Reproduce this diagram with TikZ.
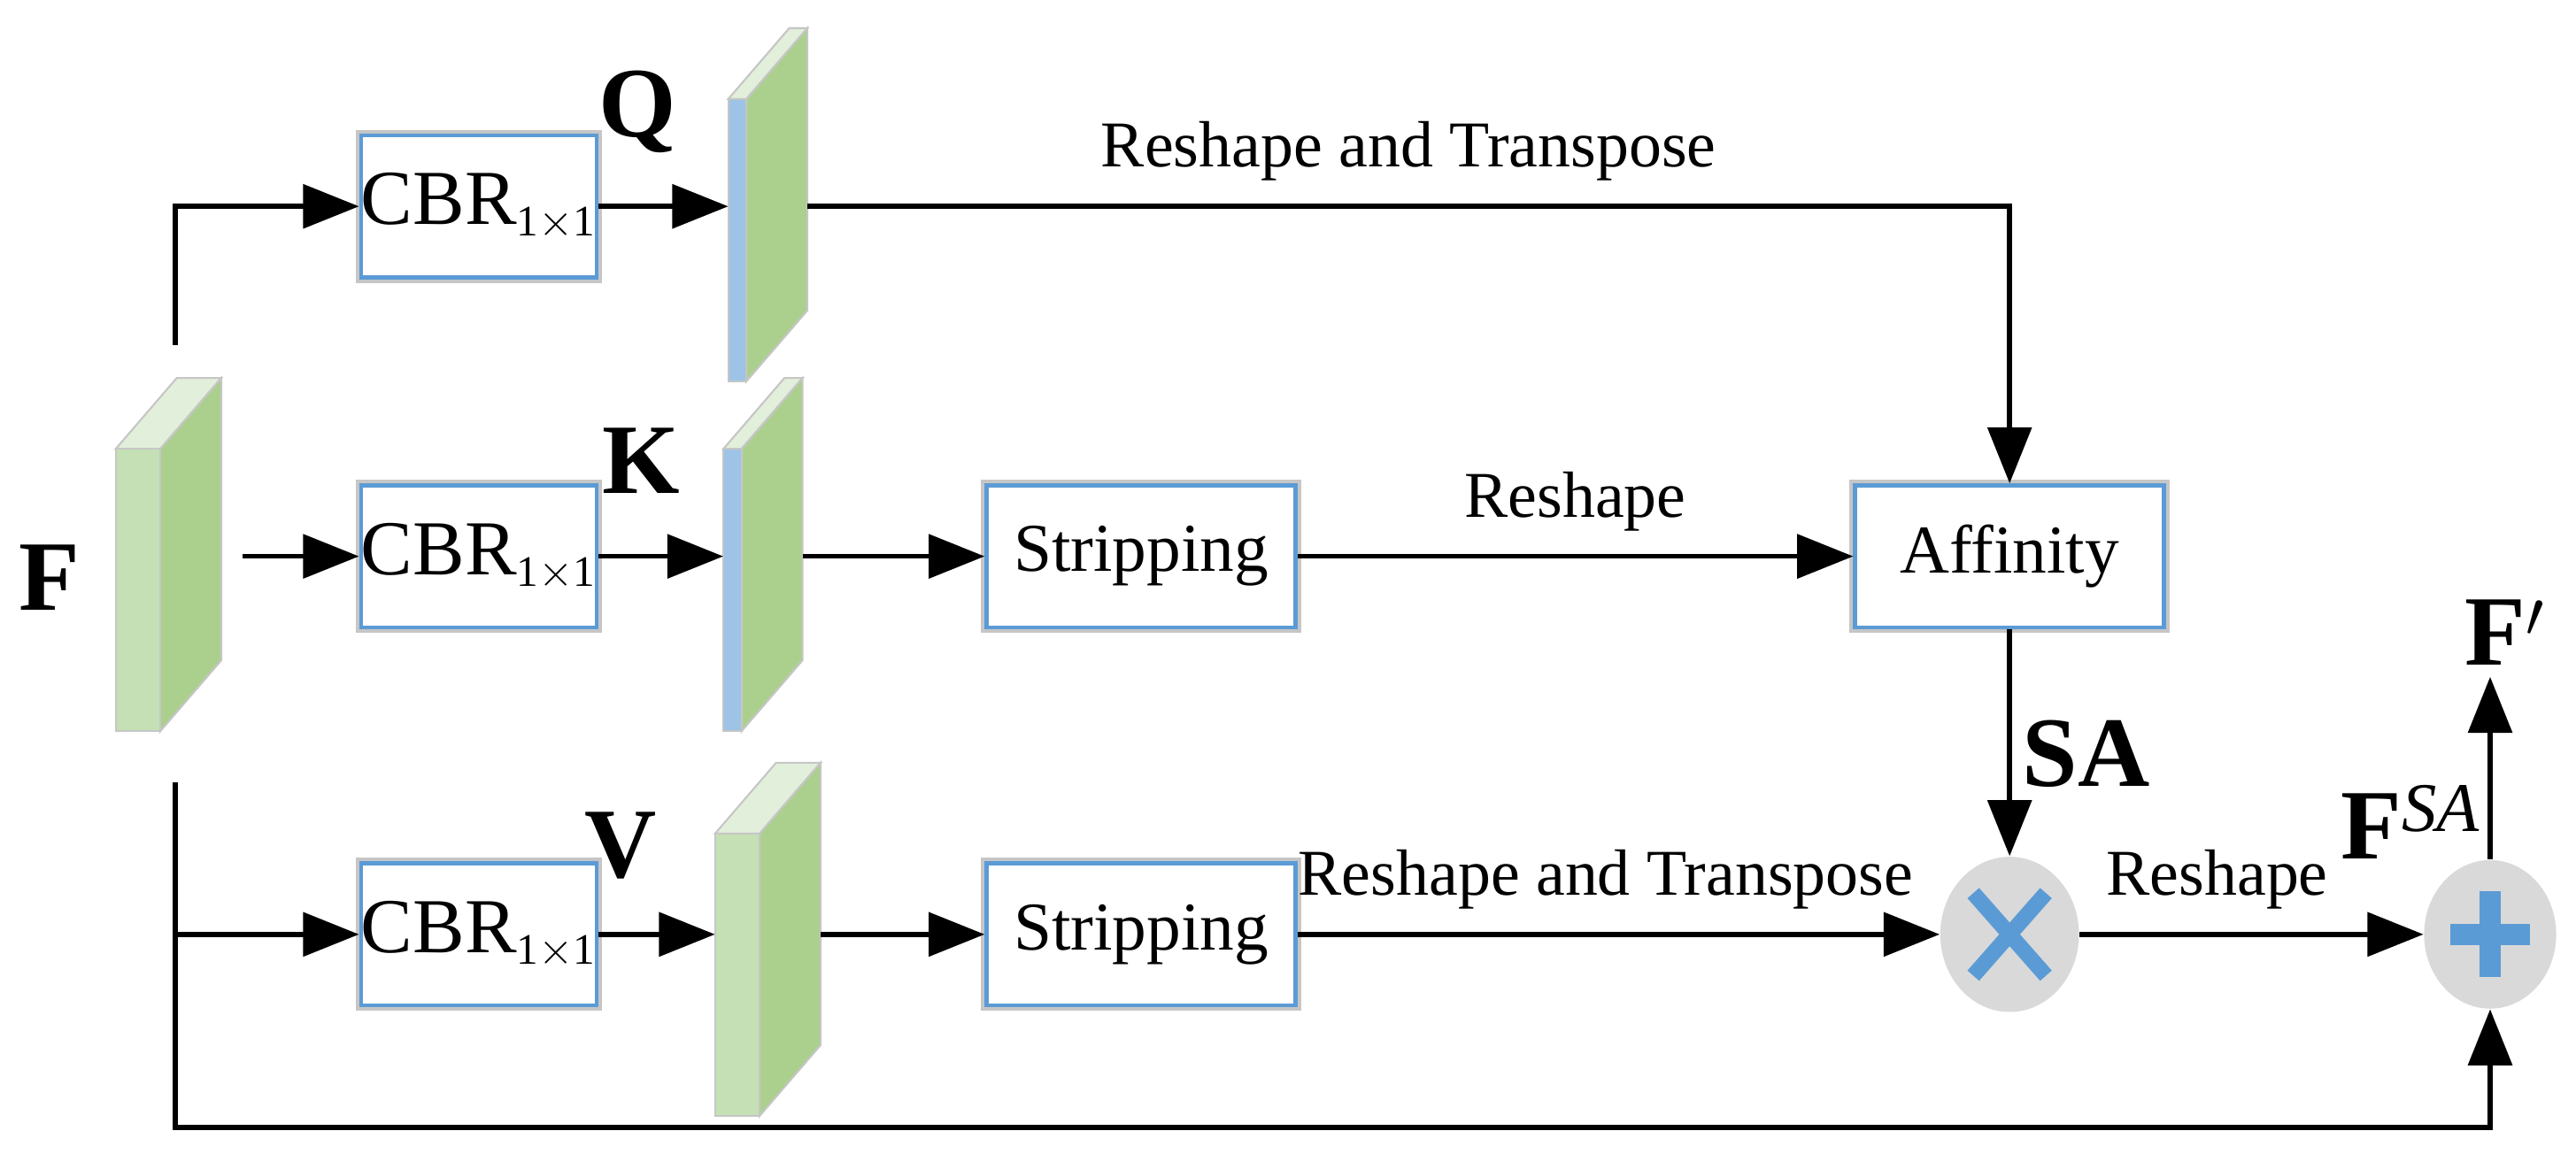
\documentclass[tikz,border=0pt]{standalone}
\usepackage{fontspec}
\setmainfont{Liberation Serif}
\usetikzlibrary{arrows.meta,positioning,shapes.geometric}
\definecolor{boxblue}{RGB}{91,155,213}
\definecolor{mapgreen}{RGB}{171,208,142}
\definecolor{mapfront}{RGB}{197,224,180}
\definecolor{maptop}{RGB}{226,239,218}
\definecolor{mapblue}{RGB}{157,195,230}
\definecolor{opgray}{RGB}{217,217,217}
\tikzset{
  box/.style = {draw=boxblue, line width=1.3pt, fill=white,
    preaction={draw=gray!45, line width=3.6pt},
    minimum width=142*0.01865cm, minimum height=86*0.01865cm, inner sep=0pt,
    font=\fontsize{25}{30}\selectfont},
  sbox/.style = {box, minimum width=187*0.01865cm, font=\fontsize{22}{26}\selectfont},
  lbl/.style = {font=\fontsize{21}{26}\selectfont},
  big/.style = {font=\fontsize{32}{36}\selectfont\bfseries},
  conn/.style = {line width=1.6pt, -{Triangle[length=18pt,width=14pt]}},
  op/.style = {ellipse, fill=opgray, minimum width=84*0.01865cm, minimum height=94*0.01865cm, inner sep=0pt}
}
\newcommand\cbr{CBR\textsubscript{\fontsize{14}{14}\selectfont 1$\times$1}}
% feature map: name, front left x, top y, front width, height, front colour, row y
\newcommand\fmap[7]{%
  \fill[maptop, draw=gray!45, line width=0.6pt] (#2,#3) -- ++(37,-43) -- ++(#4,0) -- ++(-37,43) -- cycle;
  \fill[mapgreen, draw=gray!45, line width=0.6pt] (#2+#4,#3) -- ++(37,-43) -- ++(0,#5) -- ++(-37,43) -- cycle;
  \fill[#6, draw=gray!45, line width=0.6pt] (#2,#3) rectangle ++(#4,#5);
  \coordinate (#1-in) at (#2,#7);
  \coordinate (#1-out) at (#2+#4+37,#7);
}
\begin{document}
\begin{tikzpicture}[x=0.01865cm, y=-0.01865cm]
  \useasboundingbox (0,0) rectangle (1560,699);
  % feature maps
  \fmap{f}{70}{272}{27}{171}{mapfront}{357}
  \fmap{q}{441}{60}{11}{171}{mapblue}{125}
  \fmap{k}{438}{272}{11}{171}{mapblue}{337}
  \fmap{v}{433}{505}{27}{171}{mapfront}{566}
  \node[big] (flbl) at (30,350) {F};
  \node[big] (qlbl) at (386,68) {Q};
  \node[big] (klbl) at (388,279) {K};
  \node[big] (vlbl) at (376,512) {V};
  % blocks
  \node[box] (cbrq) at (290,125) {\cbr};
  \node[box] (cbrk) at (290,337) {\cbr};
  \node[box] (cbrv) at (290,566) {\cbr};
  \node[sbox] (strk) at (691,337) {Stripping};
  \node[sbox] (strv) at (691,566) {Stripping};
  \node[sbox] (aff) at (1217,337) {Affinity};
  \node[op] (mul) at (1217,566) {};
  \node[op, minimum width=80*0.01865cm, minimum height=90*0.01865cm] (add) at (1508,566) {};
  \draw[boxblue, line width=5pt] ([shift={(-22,-25)}]mul.center) -- ([shift={(22,25)}]mul.center)
    ([shift={(-22,25)}]mul.center) -- ([shift={(22,-25)}]mul.center);
  \draw[boxblue, line width=7pt] ([shift={(-24,0)}]add.center) -- ([shift={(24,0)}]add.center)
    ([shift={(0,-26)}]add.center) -- ([shift={(0,26)}]add.center);
  % connectors
  \coordinate (ftop) at (106,209);
  \coordinate (fbot) at (106,474);
  \coordinate (fk) at (147,337);
  \coordinate (floor) at (106,683);
  \draw[conn] (ftop) |- (cbrq.west);
  \draw[conn] (fk) -- (cbrk.west);
  \draw[conn] (fbot) |- (cbrv.west);
  \draw[conn] (fbot) -- (floor) -| (add.south);
  \draw[conn] (cbrq.east) -- (q-in);
  \draw[conn] (cbrk.east) -- (k-in);
  \draw[conn] (cbrv.east) -- (v-in);
  \draw[conn] (q-out) -| (aff.north) node[pos=0.25, above=4pt, lbl] {Reshape and Transpose};
  \draw[conn] (k-out) -- (strk.west);
  \draw[conn] (strk.east) -- (aff.west) node[midway, above=4pt, lbl] {Reshape};
  \draw[conn] (aff.south) -- (mul.north) node[pos=0.55, right=0pt, big] {SA};
  \draw[conn] (v-out) -- (strv.west);
  \draw[conn] (strv.east) -- (mul.west) node[pos=0.48, above=4pt, lbl] {Reshape and Transpose};
  \draw[conn] (mul.east) -- (add.west) node[pos=0.4, above=4pt, lbl] {Reshape};
  \node[big] (fsa) at (1460,498) {F$^{\mathit{SA}}$};
  \coordinate (fout) at (1508,410);
  \draw[conn] (add.north) -- (fout);
  \node[big] (fprime) at (1517,383) {F$'$};
\end{tikzpicture}
\end{document}
